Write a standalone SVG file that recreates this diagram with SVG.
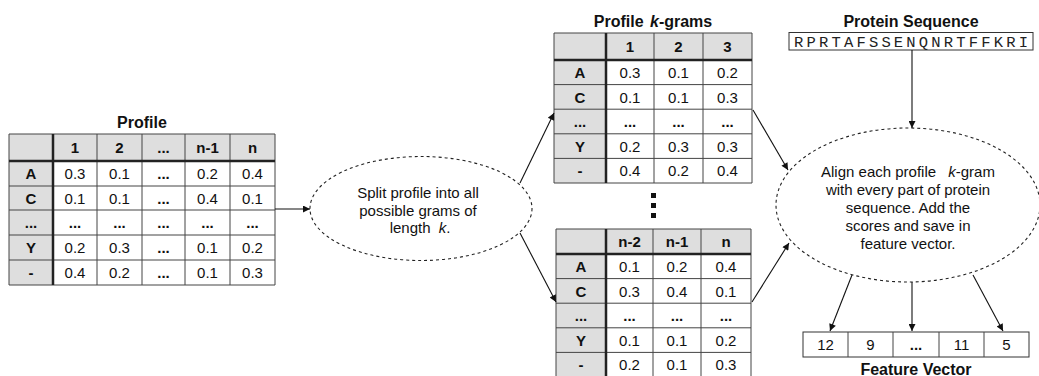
<svg xmlns="http://www.w3.org/2000/svg" width="1039" height="376" viewBox="0 0 1039 376">
  <style>
    text { font-family: "Liberation Sans", Arial, Helvetica, sans-serif; font-size: 15px; fill: #111; text-anchor: middle; }
    .b { font-weight: bold; }
    .i { font-style: italic; }
    .title { font-size: 16px; font-weight: bold; }
    .mono { font-family: "Liberation Mono", "Courier New", monospace; font-size: 15.5px; fill: #222; }
    .hd { fill: #dedede; }
    .cell { fill: #ffffff; }
    .grid { fill: none; stroke: #444; stroke-width: 1; }
    .thick { fill: none; stroke: #222; stroke-width: 2.5; }
    .bubble { fill: #ffffff; stroke: #222; stroke-width: 1.1; stroke-dasharray: 3 3; }
    .box { fill: #ffffff; stroke: #333; stroke-width: 1; }
    .conn { fill: none; stroke: #111; stroke-width: 1.1; marker-end: url(#ah); }
  </style>
  <defs>
    <marker id="ah" viewBox="0 0 10 10" refX="10" refY="5" markerWidth="9" markerHeight="7" markerUnits="userSpaceOnUse" orient="auto">
      <path d="M0,0 L10,5 L0,10 z" fill="#111"/>
    </marker>
  </defs>

  <rect width="1039" height="376" fill="#ffffff"/>

  <!-- Full profile table -->
  <g id="profile">
    <text class="title" x="142" y="128">Profile</text>
    <rect class="hd" x="9" y="134" width="266" height="27"/>
    <rect class="hd" x="9" y="161" width="44" height="124"/>
    <rect class="cell" x="53" y="161" width="222" height="124"/>
    <path class="grid" d="M9,134 H275 V285 H9 Z M97,134 V285 M142,134 V285 M185,134 V285 M230,134 V285 M9,186 H275 M9,210 H275 M9,235 H275 M9,260 H275"/>
    <path class="thick" d="M53,134 V285 M9,161 H275"/>
    <g class="b">
      <text x="75" y="153">1</text><text x="119.5" y="153">2</text><text x="163.5" y="153">...</text><text x="207.5" y="153">n-1</text><text x="252.5" y="153">n</text>
      <text x="31" y="179">A</text><text x="31" y="204">C</text><text x="31" y="228">...</text><text x="31" y="253">Y</text><text x="31" y="278">-</text>
      <text x="163.5" y="179">...</text><text x="163.5" y="204">...</text><text x="163.5" y="228">...</text><text x="163.5" y="253">...</text><text x="163.5" y="278">...</text>
      <text x="75" y="228">...</text><text x="119.5" y="228">...</text><text x="207.5" y="228">...</text><text x="252.5" y="228">...</text>
    </g>
    <text x="75" y="179">0.3</text><text x="119.5" y="179">0.1</text><text x="207.5" y="179">0.2</text><text x="252.5" y="179">0.4</text>
    <text x="75" y="204">0.1</text><text x="119.5" y="204">0.1</text><text x="207.5" y="204">0.4</text><text x="252.5" y="204">0.1</text>
    <text x="75" y="253">0.2</text><text x="119.5" y="253">0.3</text><text x="207.5" y="253">0.1</text><text x="252.5" y="253">0.2</text>
    <text x="75" y="278">0.4</text><text x="119.5" y="278">0.2</text><text x="207.5" y="278">0.1</text><text x="252.5" y="278">0.3</text>
  </g>

  <!-- Splitting step -->
  <g id="split">
    <ellipse class="bubble" cx="421" cy="208.5" rx="111" ry="52"/>
    <text x="418" y="198">Split profile into all</text>
    <text x="418" y="216">possible grams of</text>
    <text x="420" y="233">length <tspan class="i" dx="4">k</tspan>.</text>
  </g>

  <!-- First k-gram -->
  <g id="kgram-first">
    <text class="title" x="653" y="27">Profile <tspan class="i" dx="2">k</tspan>-grams</text>
    <rect class="hd" x="554" y="33" width="198" height="27"/>
    <rect class="hd" x="554" y="60" width="52" height="123"/>
    <rect class="cell" x="606" y="60" width="146" height="123"/>
    <path class="grid" d="M554,33 H752 V183 H554 Z M654,33 V183 M703,33 V183 M554,84.6 H752 M554,109.2 H752 M554,133.8 H752 M554,158.4 H752"/>
    <path class="thick" d="M606,33 V183 M554,60 H752"/>
    <g class="b">
      <text x="630" y="52">1</text><text x="678.5" y="52">2</text><text x="727.5" y="52">3</text>
      <text x="580" y="78">A</text><text x="580" y="102.5">C</text><text x="580" y="127">...</text><text x="580" y="151.5">Y</text><text x="580" y="176">-</text>
      <text x="630" y="127">...</text><text x="678.5" y="127">...</text><text x="727.5" y="127">...</text>
    </g>
    <text x="630" y="78">0.3</text><text x="678.5" y="78">0.1</text><text x="727.5" y="78">0.2</text>
    <text x="630" y="102.5">0.1</text><text x="678.5" y="102.5">0.1</text><text x="727.5" y="102.5">0.3</text>
    <text x="630" y="151.5">0.2</text><text x="678.5" y="151.5">0.3</text><text x="727.5" y="151.5">0.3</text>
    <text x="630" y="176">0.4</text><text x="678.5" y="176">0.2</text><text x="727.5" y="176">0.4</text>
  </g>

  <!-- Vertical ellipsis between k-grams -->
  <g id="more-kgrams" fill="#111">
    <rect x="651" y="193" width="5" height="5"/>
    <rect x="651" y="203" width="5" height="5"/>
    <rect x="651" y="213" width="5" height="5"/>
  </g>

  <!-- Last k-gram -->
  <g id="kgram-last">
    <rect class="hd" x="556" y="229" width="195" height="25"/>
    <rect class="hd" x="556" y="254" width="50" height="123"/>
    <rect class="cell" x="606" y="254" width="145" height="123"/>
    <path class="grid" d="M556,229 H751 V377 H556 Z M653,229 V377 M701,229 V377 M556,278.6 H751 M556,303.2 H751 M556,327.8 H751 M556,352.4 H751"/>
    <path class="thick" d="M606,229 V377 M556,254 H751"/>
    <g class="b">
      <text x="629.5" y="247">n-2</text><text x="677" y="247">n-1</text><text x="726" y="247">n</text>
      <text x="581" y="272">A</text><text x="581" y="296.5">C</text><text x="581" y="321">...</text><text x="581" y="345.5">Y</text><text x="581" y="370">-</text>
      <text x="629.5" y="321">...</text><text x="677" y="321">...</text><text x="726" y="321">...</text>
    </g>
    <text x="629.5" y="272">0.1</text><text x="677" y="272">0.2</text><text x="726" y="272">0.4</text>
    <text x="629.5" y="296.5">0.3</text><text x="677" y="296.5">0.4</text><text x="726" y="296.5">0.1</text>
    <text x="629.5" y="345.5">0.1</text><text x="677" y="345.5">0.1</text><text x="726" y="345.5">0.2</text>
    <text x="629.5" y="370">0.2</text><text x="677" y="370">0.1</text><text x="726" y="370">0.3</text>
  </g>

  <!-- Protein sequence -->
  <g id="protein">
    <text class="title" x="911" y="27">Protein Sequence</text>
    <rect class="box" x="789" y="32.5" width="244" height="17.5"/>
    <text class="mono" x="911" y="46.5" textLength="234" lengthAdjust="spacing">RPRTAFSSENQNRTFFKRI</text>
  </g>

  <!-- Alignment step -->
  <g id="align">
    <ellipse class="bubble" cx="908" cy="205" rx="132" ry="77"/>
    <text x="908" y="177">Align each profile <tspan class="i" dx="8">k</tspan>-gram</text>
    <text x="908" y="195">with every part of protein</text>
    <text x="908" y="213">sequence. Add the</text>
    <text x="908" y="231">scores and save in</text>
    <text x="908" y="249">feature vector.</text>
  </g>

  <!-- Feature vector -->
  <g id="feature-vector">
    <rect class="box" x="803" y="332" width="226" height="25"/>
    <path class="grid" d="M848,332 V357 M893,332 V357 M939,332 V357 M984,332 V357"/>
    <text x="825.5" y="350">12</text>
    <text x="870.5" y="350">9</text>
    <text class="b" x="916" y="350">...</text>
    <text x="961.5" y="350">11</text>
    <text x="1006.5" y="350">5</text>
    <text class="title" x="916" y="375">Feature Vector</text>
  </g>

  <!-- Connectors -->
  <g id="connectors">
    <line class="conn" x1="275" y1="209" x2="310" y2="209"/>
    <line class="conn" x1="520" y1="183" x2="554" y2="113"/>
    <line class="conn" x1="520" y1="233" x2="556" y2="302"/>
    <line class="conn" x1="753" y1="110" x2="788" y2="170"/>
    <line class="conn" x1="752" y1="302" x2="789" y2="243"/>
    <line class="conn" x1="912" y1="50" x2="912" y2="128"/>
    <line class="conn" x1="852" y1="275" x2="830" y2="331"/>
    <line class="conn" x1="912" y1="282" x2="912" y2="331"/>
    <line class="conn" x1="973" y1="275" x2="1003" y2="331"/>
  </g>
</svg>
